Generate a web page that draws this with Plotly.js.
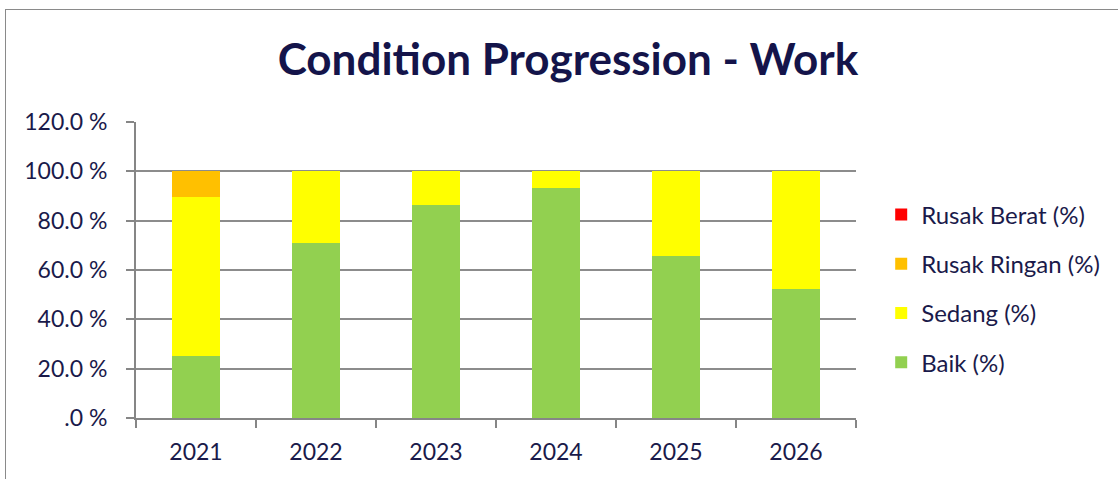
<!DOCTYPE html>
<html>
<head>
<meta charset="utf-8">
<script src="https://cdn.plot.ly/plotly-3.0.1.min.js"></script>
<style>
  html, body { margin: 0; padding: 0; background: #fff; }
  #wrap { position: relative; width: 1118px; height: 479px; overflow: hidden; }
  #chart { position: absolute; left: 0; top: 0; width: 1118px; height: 479px; }
  #frame { position: absolute; left: 5px; top: 9px; width: 1200px; height: 600px; border: 1px solid #8a8a8a; pointer-events: none; }
</style>
</head>
<body>
<div id="wrap">
  <div id="chart"></div>
  <div id="frame"></div>
</div>
<script>
const years = ['2021', '2022', '2023', '2024', '2025', '2026'];
const baik = [25.1, 70.9, 86.2, 93.2, 65.5, 52.4];
const sedang = [64.5, 29.1, 13.8, 6.8, 34.5, 47.6];
const rusakRingan = [10.4, 0, 0, 0, 0, 0];
const rusakBerat = [0, 0, 0, 0, 0, 0];
const yTickVals = [0, 20, 40, 60, 80, 100, 120];
const yTickText = ['.0 %', '20.0 %', '40.0 %', '60.0 %', '80.0 %', '100.0 %', '120.0 %'];

const textColor = '#1a1a4a';
const font = 'Lato, "Open Sans", sans-serif';

function bar(name, y, color, rank) {
  return { type: 'bar', name: name, x: years, y: y, marker: { color: color, line: { width: 0 } },
           legendgroup: name, legendrank: rank, hoverinfo: 'x+y+name' };
}

const data = [
  bar('Baik (%)', baik, '#92d050', 4),
  bar('Sedang (%)', sedang, '#ffff00', 3),
  bar('Rusak Ringan (%)', rusakRingan, '#ffc000', 2),
  bar('Rusak Berat (%)', rusakBerat, '#ff0000', 1)
];

const layout = {
  width: 1118, height: 479,
  margin: { l: 136, r: 262, t: 122, b: 61 },
  paper_bgcolor: 'rgba(0,0,0,0)', plot_bgcolor: '#fff',
  barmode: 'stack', bargap: 0.6,
  font: { family: font, color: textColor, size: 23 },
  title: { text: '<b>Condition Progression - Work</b>', font: { family: font, size: 44, color: '#14144a' },
           x: 0.508, xanchor: 'center', y: 0.875, yanchor: 'middle' },
  xaxis: {
    type: 'category', showgrid: false, showline: true, linecolor: '#868686', linewidth: 2,
    ticks: 'outside', tickson: 'boundaries', ticklen: 8, tickcolor: '#868686', tickwidth: 2,
    tickfont: { size: 23, color: textColor }, ticklabelstandoff: 12, fixedrange: true
  },
  yaxis: {
    range: [0, 120], tickvals: yTickVals, ticktext: yTickText,
    showgrid: true, gridcolor: '#8c8c8c', gridwidth: 2, zeroline: false,
    showline: true, linecolor: '#868686', linewidth: 2,
    ticks: 'outside', ticklen: 8, tickcolor: '#868686', tickwidth: 2,
    tickfont: { size: 23, color: textColor }, ticklabelstandoff: 14, fixedrange: true
  },
  legend: {
    x: 1.035, xanchor: 'left', y: 0.4375, yanchor: 'middle',
    traceorder: 'grouped', tracegroupgap: 15,
    font: { size: 24, color: textColor }, bgcolor: 'rgba(0,0,0,0)', itemwidth: 30
  },
  showlegend: true
};

Plotly.newPlot('chart', data, layout, { displayModeBar: false, staticPlot: true });
</script>
</body>
</html>
